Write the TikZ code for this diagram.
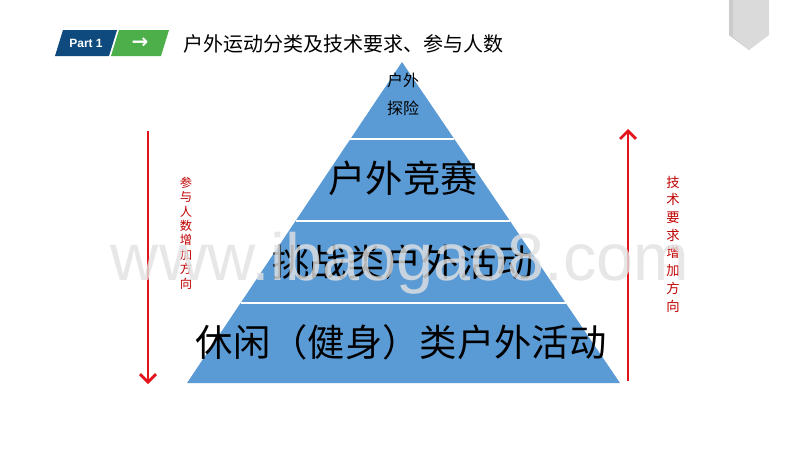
\documentclass[tikz,border=0pt]{standalone}
\usepackage{fontspec}
\setmainfont{Noto Sans CJK SC}
\newfontfamily\latinsans{Liberation Sans}
\newfontfamily\symfont{DejaVu Sans}
\usetikzlibrary{arrows.meta,calc}
\definecolor{pyr}{HTML}{5B9BD5}
\definecolor{navy}{HTML}{0E4A7E}
\definecolor{grn}{HTML}{4CAF4A}
\definecolor{redarr}{HTML}{E3141B}
\definecolor{redtxt}{HTML}{C00000}
\definecolor{tabgrey}{HTML}{DADADA}
\definecolor{tabshade}{HTML}{CCCCCC}
\definecolor{wmgrey}{HTML}{E2E2E2}
\begin{document}
\begin{tikzpicture}[x=0.75pt,y=-0.75pt,
  bigtxt/.style={font=\fontsize{28}{30}\selectfont, text=black, inner sep=0pt},
  smalltxt/.style={font=\fontsize{12}{14}\selectfont, text=black, inner sep=0pt},
  redleft/.style={text=redtxt, font=\fontsize{9.2}{10.8}\selectfont, align=center, inner sep=0pt},
  redright/.style={text=redtxt, font=\fontsize{10}{13.3}\selectfont, align=center, inner sep=0pt},
  redarrow/.style={draw=redarr, line width=2.2pt, -{Straight Barb[length=6pt,width=12pt,line width=2pt]}},
  sepline/.style={draw=white, line width=1.5pt},
  ]
\path[use as bounding box, fill=white] (0,0) rectangle (800,450);

% top-right grey tab
\path[fill=tabgrey] (729,0) -- (769,0) -- (769,35) -- (749,50) -- (729,35) -- cycle;
\path[fill=tabshade] (729,0) -- (733,0) -- (733,37) -- (749,50) -- (729,35) -- cycle;

% header
\path[fill=navy] (55,56) -- (63,30) -- (117,30) -- (109,56) -- cycle;
\node[font=\latinsans\bfseries\fontsize{9}{9}\selectfont, text=white, inner sep=0pt] (part) at (86,43) {Part 1};
\path[fill=grn] (111,56) -- (119,30) -- (169,30) -- (161,56) -- cycle;
\node[text=white, font=\symfont\bfseries\fontsize{15}{15}\selectfont, inner sep=0pt] (arrsym) at (140,43) {→};
\node[anchor=west, font=\fontsize{15}{15}\selectfont, inner sep=0pt] (title) at (183,44) {户外运动分类及技术要求、参与人数};

% pyramid
\coordinate (apex) at (402,62);
\coordinate (bl) at (187,383);
\coordinate (br) at (620,383);
\path[fill=pyr] (apex) -- (bl) -- (br) -- cycle;
\foreach \t in {0.24,0.495,0.751}{
  \draw[sepline] ($(apex)!\t!(bl)$) -- ($(apex)!\t!(br)$);
}

\node[smalltxt] (t1a) at (403,80) {户外};
\node[smalltxt] (t1b) at (403,108) {探险};
\node[bigtxt] (t2) at (403,178) {户外竞赛};
\node[bigtxt] (t3) at (403,262) {挑战类户外活动};
\node[bigtxt] (t4) at (401,342) {休闲（健身）类户外活动};

% side arrows
\coordinate (la1) at (148,131);
\coordinate (la2) at (148,384);
\draw[redarrow] (la1) -- (la2);
\coordinate (ra1) at (628,381);
\coordinate (ra2) at (628,129);
\draw[redarrow] (ra1) -- (ra2);

\node[redleft] (ltext) at (186,233) {参\\与\\人\\数\\增\\加\\方\\向};
\node[redright] (rtext) at (673,244) {技\\术\\要\\求\\增\\加\\方\\向};

% watermark
\node[font=\latinsans\fontsize{50}{50}\selectfont, text=wmgrey, text opacity=0.8, anchor=base, inner sep=0pt] (wm) at (400,280) {www.ibaogao8.com};
\end{tikzpicture}
\end{document}
